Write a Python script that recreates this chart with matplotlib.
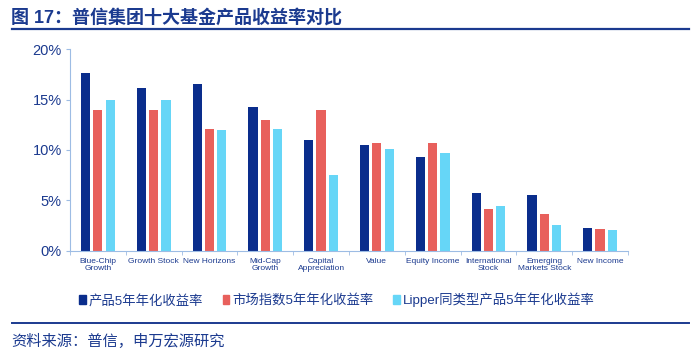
import matplotlib
matplotlib.use("Agg")
import matplotlib.pyplot as plt
import numpy as np
from matplotlib.patches import Rectangle

plt.rcParams['font.family'] = ['Liberation Sans', 'Noto Sans CJK SC', 'DejaVu Sans']

categories = ["Blue-Chip\nGrowth", "Growth Stock", "New Horizons", "Mid-Cap\nGrowth",
              "Capital\nAppreciation", "Value", "Equity Income", "International\nStock",
              "Emerging\nMarkets Stock", "New Income"]
product_5y = [17.6, 16.1, 16.5, 14.3, 11.0, 10.5, 9.3, 5.7, 5.5, 2.2]
index_5y = [14.0, 14.0, 12.1, 13.0, 14.0, 10.7, 10.7, 4.1, 3.6, 2.1]
lipper_5y = [15.0, 15.0, 12.0, 12.1, 7.5, 10.1, 9.7, 4.4, 2.5, 2.0]
series_names = ["产品5年年化收益率", "市场指数5年年化收益率", "Lipper同类型产品5年年化收益率"]
yticks = [0, 5, 10, 15, 20]
title = "图 17：普信集团十大基金产品收益率对比"
source = "资料来源：普信，申万宏源研究"

colors = ["#0A2D8C", "#E8605C", "#66D6F7"]
navy = "#1B3A8F"
axis_col = "#9DBCE4"

fig = plt.figure(figsize=(7, 3.56), dpi=100)
ax = fig.add_axes([0.1, 0.296, 0.797, 0.566])

x = np.arange(len(categories))
w = 0.165
off = 0.22
for i, (vals, c) in enumerate(zip([product_5y, index_5y, lipper_5y], colors)):
    ax.bar(x + (i - 1) * off, vals, width=w, color=c, zorder=2)

ax.set_xlim(-0.5, len(categories) - 0.5)
ax.set_ylim(0, 20)
ax.set_yticks(yticks)
ax.set_yticklabels([f"{t}%" for t in yticks], fontsize=10.5, color=navy)
ax.set_xticks(x)
ax.set_xticklabels(categories, fontsize=6.0, color=navy, linespacing=1.15)
ax.tick_params(axis='x', length=0, pad=5)
ax.set_xticks(np.arange(-0.5, len(categories), 1), minor=True)
ax.tick_params(axis='x', which='minor', length=3, color=axis_col, direction='out')
ax.tick_params(axis='y', length=3, color=axis_col, direction='out', pad=3)
for s in ['top', 'right']:
    ax.spines[s].set_visible(False)
ax.spines['left'].set_color(axis_col)
ax.spines['bottom'].set_color(axis_col)

# title
fig.text(0.016, 0.951, title, fontsize=13, fontweight='bold', color=navy, va='center', ha='left')
fig.add_artist(plt.Line2D([0.017, 0.984], [0.918, 0.918], color=navy, lw=1.6))

# legend
handles = [Rectangle((0, 0), 1, 1, color=c) for c in colors]
fig.legend(handles, series_names, loc='center', bbox_to_anchor=(0.481, 0.157), ncol=3,
           frameon=False, fontsize=9.6, handlelength=0.5, handleheight=0.6,
           handletextpad=0.2, columnspacing=1.5, labelcolor=navy)

fig.add_artist(plt.Line2D([0.017, 0.984], [0.092, 0.092], color=navy, lw=1.4))
fig.text(0.016, 0.04, source, fontsize=11, color=navy, va='center', ha='left')

fig.savefig("out.png", dpi=100)
